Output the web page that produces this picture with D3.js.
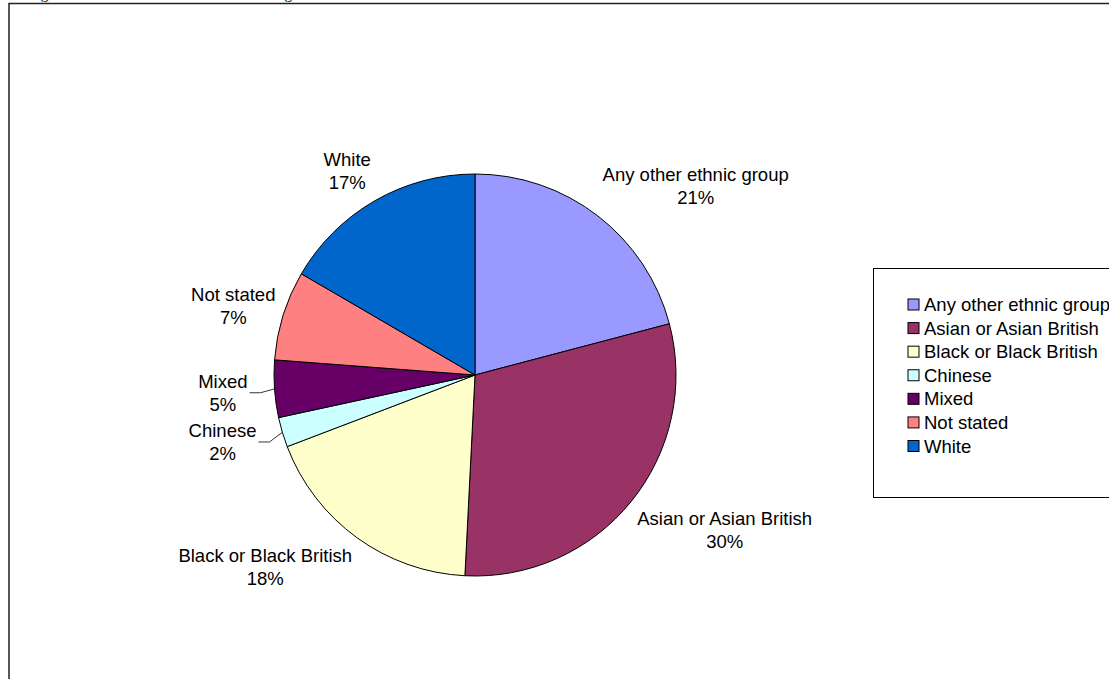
<!DOCTYPE html>
<html>
<head>
<meta charset="utf-8">
<script src="https://cdn.jsdelivr.net/npm/d3@7"></script>
<style>
  body { margin: 0; background: #fff; }
  svg { display: block; }
  text { font-family: Arial, "Liberation Sans", sans-serif; fill: #000; }
</style>
</head>
<body>
<div id="chart"></div>
<script>
const categories = [
  "Any other ethnic group",
  "Asian or Asian British",
  "Black or Black British",
  "Chinese",
  "Mixed",
  "Not stated",
  "White"
];
const shares = [20.9, 29.9, 18.4, 2.4, 4.6, 7.2, 16.6];
const colors = ["#9999FF", "#993366", "#FFFFCC", "#CCFFFF", "#660066", "#FF8080", "#0066CC"];
const titleText = "Figure 6: Ethnic mix of users in the borough";

const width = 1109, height = 679;
const cx = 475, cy = 375, radius = 201;
const fontSize = 18.5, lineGap = 23;

const svg = d3.select("#chart")
  .append("svg")
  .attr("width", width)
  .attr("height", height);

// outer chart frame (runs off the right and bottom edges)
svg.append("rect")
  .attr("x", 9)
  .attr("y", 3.5)
  .attr("width", 1200)
  .attr("height", 800)
  .attr("fill", "none")
  .attr("stroke", "#222")
  .attr("stroke-width", 1.5);

// title, mostly cut off above the page
svg.append("text")
  .attr("x", 28)
  .attr("y", -1.5)
  .style("font-family", "'Liberation Serif', 'Times New Roman', serif")
  .style("font-size", "15.3px")
  .text(titleText);

const data = categories.map((c, i) => ({ name: c, value: shares[i], color: colors[i] }));
const total = d3.sum(shares);

const pie = d3.pie()
  .sort(null)
  .value(d => d.value)
  .startAngle(0)
  .endAngle(2 * Math.PI);

const arc = d3.arc().innerRadius(0).outerRadius(radius);

const g = svg.append("g").attr("transform", "translate(" + cx + "," + cy + ")");
const arcs = pie(data);

g.selectAll("path.slice")
  .data(arcs)
  .join("path")
  .attr("class", "slice")
  .attr("d", arc)
  .attr("fill", d => d.data.color)
  .attr("stroke", "#000")
  .attr("stroke-width", 1);

/********** data labels **********/
const labels = g.append("g").attr("class", "labels");

arcs.forEach(d => {
  const a = (d.startAngle + d.endAngle) / 2;
  const s = Math.sin(a), c = -Math.cos(a);
  const side = Math.sign(s);
  const pct = Math.round(d.data.value / total * 100) + "%";

  const lab = labels.append("g");
  const t1 = lab.append("text")
    .style("font-size", fontSize + "px")
    .attr("text-anchor", "middle")
    .attr("dominant-baseline", "central")
    .text(d.data.name);
  const t2 = lab.append("text")
    .style("font-size", fontSize + "px")
    .attr("text-anchor", "middle")
    .attr("dominant-baseline", "central")
    .text(pct);
  const w = Math.max(t1.node().getComputedTextLength(), t2.node().getComputedTextLength());
  const h = 2 * lineGap;

  let mx, my;
  if (d.data.value / total < 0.06) {
    // small slice: pushed out with a leader line
    const lr = radius + 27;
    const px = lr * s, py = lr * c + 2;
    mx = px + side * w / 2;
    my = py;
    const ex = radius * s, ey = radius * c;
    const sx = px - side * 2;
    labels.append("path")
      .attr("d", d3.line()([[sx, my], [sx - side * 11, my], [ex, ey]]))
      .attr("fill", "none")
      .attr("stroke", "#000")
      .attr("stroke-width", 0.8);
  } else {
    const lr = radius + 8;
    const px = lr * s, py = lr * c;
    const fy = Math.abs(c) >= 0.5 ? Math.sign(c) : c;
    mx = px + side * w / 2;
    my = py + fy * h / 2;
  }
  t1.attr("x", mx).attr("y", my - lineGap / 2);
  t2.attr("x", mx).attr("y", my + lineGap / 2);
});

/********** legend **********/
const legend = svg.append("g").attr("class", "legend");
legend.append("rect")
  .attr("x", 873.5)
  .attr("y", 268.5)
  .attr("width", 400)
  .attr("height", 229)
  .attr("fill", "#fff")
  .attr("stroke", "#000")
  .attr("stroke-width", 1);

const rowY = d3.scalePoint().domain(categories).range([304.5, 446]);

const items = legend.selectAll("g.item")
  .data(data)
  .join("g")
  .attr("class", "item")
  .attr("transform", d => "translate(0," + rowY(d.name) + ")");

items.append("rect")
  .attr("x", 908)
  .attr("y", -5.5)
  .attr("width", 11)
  .attr("height", 11)
  .attr("fill", d => d.color)
  .attr("stroke", "#000")
  .attr("stroke-width", 1);

items.append("text")
  .attr("x", 924)
  .attr("y", 0)
  .attr("dominant-baseline", "central")
  .style("font-size", fontSize + "px")
  .text(d => d.name);
</script>
</body>
</html>
